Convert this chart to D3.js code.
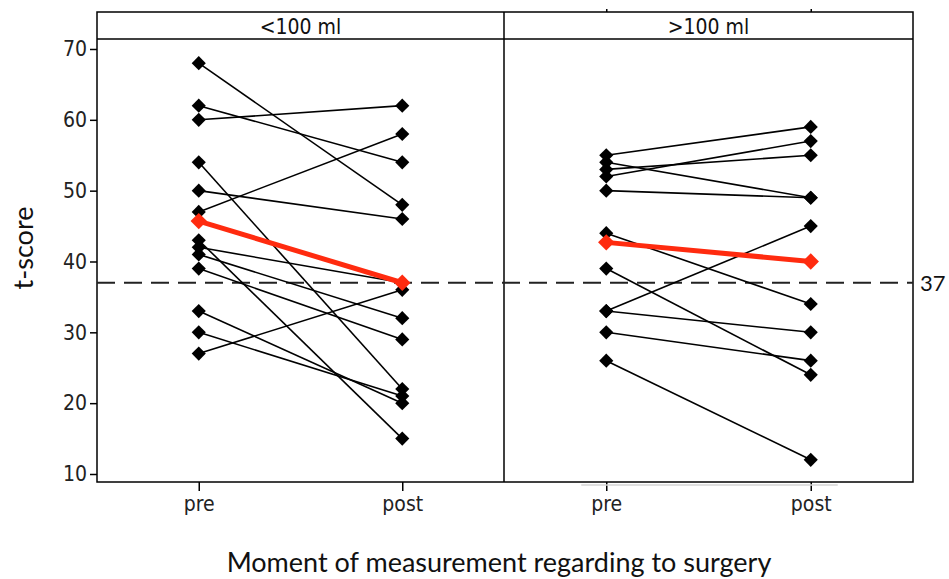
<!DOCTYPE html>
<html>
<head>
<meta charset="utf-8">
<script src="https://cdn.jsdelivr.net/npm/d3@7"></script>
<style>
  body { margin: 0; background: #fff; }
  .tick text { font-family: "DejaVu Sans Condensed", "DejaVu Sans", sans-serif; font-size: 21px; fill: #222; }
  .tick line { stroke: #000; stroke-width: 1.5; }
  .title { font-family: Lato, "Open Sans", sans-serif; font-size: 27px; fill: #111; }
</style>
</head>
<body>
<div id="main"></div>
<script>
// data
const panels = ["<100 ml", ">100 ml"];
const moments = ["pre", "post"];
const yTicks = [10, 20, 30, 40, 50, 60, 70];
const cutoff = 37;

// <100 ml, one pre/post pair per patient
const smallPre  = [68, 62, 60, 54, 50, 47, 43, 42, 41, 39, 33, 30, 27];
const smallPost = [48, 54, 62, 22, 46, 58, 15, 37, 32, 29, 20, 21, 36];
const smallMean = [45.7, 37];

// >100 ml
const largePre  = [55, 54, 53, 52, 50, 44, 39, 33, 33, 30, 26];
const largePost = [59, 49, 55, 57, 49, 34, 24, 45, 30, 26, 12];
const largeMean = [42.7, 40];

// dimensions
const svg_width = 949, svg_height = 579;
const frameLeft = 97, frameRight = 913, divider = 504;
const frameTop = 12, stripBottom = 39, frameBottom = 482;
const panelEdges = [[frameLeft, divider], [divider, frameRight]];

const svg = d3.select("#main").append("svg")
    .attr("width", svg_width)
    .attr("height", svg_height);

const yScale = d3.scaleLinear()
    .domain([8.87, 71.41])
    .range([frameBottom, stripBottom]);

const xScales = panelEdges.map(function(e) {
    return d3.scalePoint().domain(moments).range(e).padding(0.5);
});

// y-axis
svg.append("g")
    .attr("id", "y-axis")
    .attr("transform", `translate(${frameLeft},0)`)
    .call(d3.axisLeft(yScale).tickValues(yTicks).tickSize(7).tickPadding(3))
    .call(g => g.select(".domain").remove());

// x-axes, one per panel
xScales.forEach(function(xs) {
    svg.append("g")
        .attr("class", "x-axis")
        .attr("transform", `translate(0,${frameBottom})`)
        .call(d3.axisBottom(xs).tickSize(9).tickPadding(5))
        .call(g => g.select(".domain").remove());
});
// faint baseline and tiny top ticks on the right panel
const xr = xScales[1];
svg.append("line")
    .attr("x1", xr("pre") - 25).attr("x2", xr("post") + 27)
    .attr("y1", frameBottom + 3).attr("y2", frameBottom + 3)
    .attr("stroke", "#d4d4d4").attr("stroke-width", 1.5);
svg.append("g")
    .attr("transform", `translate(0,${frameTop})`)
    .call(d3.axisTop(xr).tickSize(3).tickFormat(""))
    .call(g => g.select(".domain").remove());

// frame + strips
svg.append("rect")
    .attr("x", frameLeft).attr("y", frameTop)
    .attr("width", frameRight - frameLeft).attr("height", frameBottom - frameTop)
    .attr("fill", "none").attr("stroke", "#000").attr("stroke-width", 1.5);
svg.append("line")
    .attr("x1", frameLeft).attr("x2", frameRight)
    .attr("y1", stripBottom).attr("y2", stripBottom)
    .attr("stroke", "#000").attr("stroke-width", 1.5);
svg.append("line")
    .attr("x1", divider).attr("x2", divider)
    .attr("y1", frameTop).attr("y2", frameBottom)
    .attr("stroke", "#000").attr("stroke-width", 1.5);

svg.selectAll(".strip")
    .data(panels)
    .enter()
    .append("text")
    .attr("class", "strip")
    .attr("x", (d, i) => (panelEdges[i][0] + panelEdges[i][1]) / 2)
    .attr("y", (frameTop + stripBottom) / 2 + 1)
    .attr("text-anchor", "middle")
    .attr("dominant-baseline", "central")
    .style("font-family", "'DejaVu Sans Condensed', 'DejaVu Sans', sans-serif")
    .style("font-size", "21px")
    .style("fill", "#111")
    .text(d => d);

// reference line at 37
svg.append("line")
    .attr("x1", frameLeft).attr("x2", frameRight)
    .attr("y1", yScale(cutoff)).attr("y2", yScale(cutoff))
    .attr("stroke", "#222").attr("stroke-width", 1.8)
    .attr("stroke-dasharray", "18,9");
svg.append("text")
    .attr("x", frameRight + 7)
    .attr("y", yScale(cutoff))
    .attr("dominant-baseline", "central")
    .style("font-family", "Lato, sans-serif")
    .style("font-size", "22px")
    .style("fill", "#111")
    .text(cutoff);

// patients and group means
const groups = [
    {pre: smallPre, post: smallPost, mean: smallMean},
    {pre: largePre, post: largePost, mean: largeMean}
];
const diamond = d3.symbol(d3.symbolSquare, 100);
const bigDiamond = d3.symbol(d3.symbolSquare, 135);

groups.forEach(function(g, i) {
    const xs = xScales[i];
    const pairs = g.pre.map((v, k) => [v, g.post[k]]);
    const panel = svg.append("g").attr("class", "panel");

    panel.selectAll(".pair")
        .data(pairs)
        .enter()
        .append("line")
        .attr("class", "pair")
        .attr("x1", xs("pre")).attr("x2", xs("post"))
        .attr("y1", d => yScale(d[0])).attr("y2", d => yScale(d[1]))
        .attr("stroke", "#000").attr("stroke-width", 1.6);

    const pts = [];
    pairs.forEach(function(d) {
        pts.push([xs("pre"), d[0]]);
        pts.push([xs("post"), d[1]]);
    });
    panel.selectAll(".pt")
        .data(pts)
        .enter()
        .append("path")
        .attr("class", "pt")
        .attr("d", diamond)
        .attr("transform", d => `translate(${d[0]},${yScale(d[1])}) rotate(45)`)
        .attr("fill", "#000");

    panel.append("line")
        .attr("x1", xs("pre")).attr("x2", xs("post"))
        .attr("y1", yScale(g.mean[0])).attr("y2", yScale(g.mean[1]))
        .attr("stroke", "#ff2b0f").attr("stroke-width", 5);
    panel.selectAll(".mean")
        .data(moments)
        .enter()
        .append("path")
        .attr("class", "mean")
        .attr("d", bigDiamond)
        .attr("transform", (m, k) => `translate(${xs(m)},${yScale(g.mean[k])}) rotate(45)`)
        .attr("fill", "#ff2b0f");
});

// axis titles
svg.append("text")
    .attr("class", "title")
    .attr("x", (frameLeft + frameRight) / 2 - 6)
    .attr("y", 561)
    .attr("text-anchor", "middle")
    .attr("dominant-baseline", "central")
    .text("Moment of measurement regarding to surgery");
svg.append("text")
    .attr("class", "title")
    .attr("transform", "translate(22,248) rotate(-90)")
    .attr("text-anchor", "middle")
    .attr("dominant-baseline", "central")
    .text("t-score");
</script>
</body>
</html>
